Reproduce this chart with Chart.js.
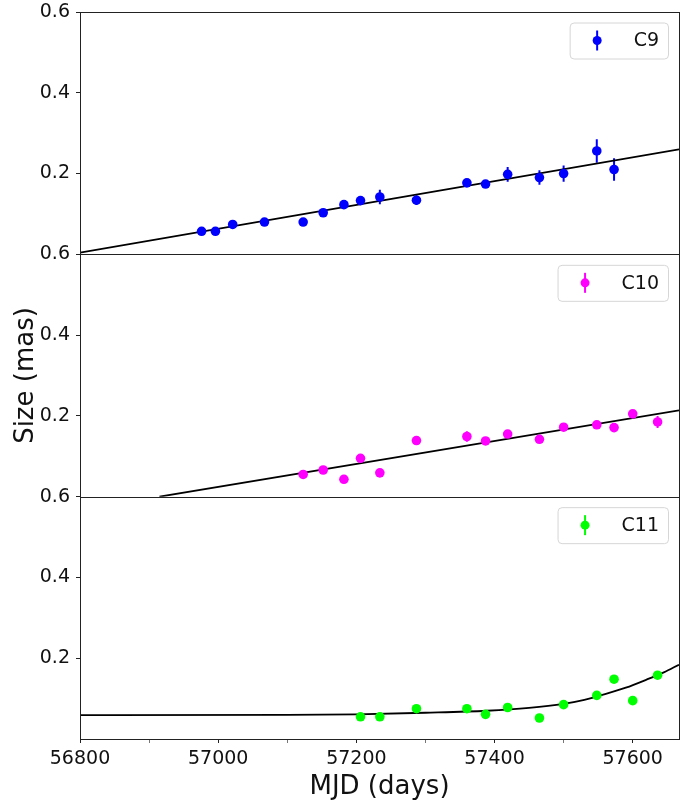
<!DOCTYPE html>
<html>
<head>
<meta charset="utf-8">
<script src="https://cdn.jsdelivr.net/npm/chart.js@4.4.1/dist/chart.umd.min.js"></script>
<style>
html,body{margin:0;padding:0;background:#fff;}
#wrap{width:692px;height:800px;position:relative;}
</style>
</head>
<body>
<div id="wrap"><canvas id="c" width="692" height="800"></canvas></div>
<script>
// ---- tick labels ----
const xTicks = [56800, 57000, 57200, 57400, 57600];
const xMinorTicks = [56900, 57100, 57300, 57500];
const yTicks = [0.2, 0.4, 0.6];

// ---- C9 ----
const c9Mjd  = [56976, 56996, 57021, 57067, 57123, 57152, 57182, 57206, 57234, 57287, 57360, 57387, 57419, 57465, 57500, 57548, 57573];
const c9Size = [0.057, 0.057, 0.074, 0.080, 0.080, 0.103, 0.123, 0.133, 0.142, 0.134, 0.177, 0.174, 0.198, 0.190, 0.200, 0.256, 0.210];
const c9Err  = [0.008, 0.008, 0.008, 0.008, 0.008, 0.008, 0.008, 0.010, 0.018, 0.012, 0.008, 0.008, 0.018, 0.018, 0.020, 0.029, 0.028];
const c9FitMjd  = [56800, 57667];
const c9FitSize = [0.004, 0.260];

// ---- C10 ----
const c10Mjd  = [57123, 57152, 57182, 57206, 57234, 57287, 57360, 57387, 57419, 57465, 57500, 57548, 57573, 57600, 57636];
const c10Size = [0.055, 0.066, 0.043, 0.095, 0.059, 0.139, 0.149, 0.138, 0.155, 0.142, 0.172, 0.178, 0.171, 0.205, 0.185];
const c10Err  = [0.006, 0.006, 0.006, 0.006, 0.006, 0.006, 0.013, 0.006, 0.008, 0.008, 0.006, 0.006, 0.008, 0.006, 0.015];
const c10FitMjd  = [56915, 57667];
const c10FitSize = [0.000, 0.2136];

// ---- C11 ----
const c11Mjd  = [57206, 57234, 57287, 57360, 57387, 57419, 57465, 57500, 57548, 57573, 57600, 57636];
const c11Size = [0.055, 0.055, 0.075, 0.075, 0.061, 0.078, 0.052, 0.085, 0.108, 0.148, 0.095, 0.158];
const c11Err  = [0.005, 0.005, 0.005, 0.005, 0.005, 0.005, 0.005, 0.005, 0.006, 0.008, 0.006, 0.008];
const c11FitMjd  = [56800, 57100, 57200, 57300, 57389, 57450, 57500, 57530, 57560, 57590, 57620, 57645, 57667];
const c11FitSize = [0.059, 0.0595, 0.061, 0.065, 0.070, 0.077, 0.087, 0.097, 0.111, 0.127, 0.147, 0.165, 0.184];

const FONT = '"DejaVu Sans", "Liberation Sans", sans-serif';
Chart.defaults.font.family = FONT;
Chart.defaults.color = '#111';

const pts = (xs, ys) => xs.map((x, i) => ({x: x, y: ys[i]}));

function pointSet(label, xs, ys, errs, color, axis) {
  return {
    type: 'scatter', label: label, data: pts(xs, ys), errors: errs, legendEntry: true,
    yAxisID: axis, backgroundColor: color, borderColor: color, borderWidth: 0,
    pointRadius: 4.8, pointHoverRadius: 4.8, order: 1
  };
}
function fitSet(xs, ys, axis) {
  return {
    type: 'line', label: 'fit', data: pts(xs, ys), yAxisID: axis,
    borderColor: '#000', borderWidth: 1.8, pointRadius: 0, fill: false,
    cubicInterpolationMode: 'monotone', order: 2
  };
}

function yAxis(weight, title) {
  return {
    type: 'linear', position: 'left', stack: 'panels', weight: weight,
    min: 0, max: 0.6,
    afterBuildTicks: (a) => { a.ticks = yTicks.map(v => ({value: v})); },
    afterFit: (a) => { a.width = 80; a.paddingTop = 0; a.paddingBottom = 0; },
    ticks: { font: {size: 19}, color: '#111', padding: 6, callback: (v) => Number(v).toFixed(1) },
    grid: { drawOnChartArea: false, drawTicks: true, tickLength: 4, tickColor: '#222', tickWidth: 1 },
    border: { display: true, color: '#222', width: 1 },
    title: title ? { display: true, text: title, font: {size: 26, lineHeight: 1.2}, color: '#111', padding: {top: 11, bottom: 0} } : {display: false}
  };
}

const errorBarPlugin = {
  id: 'errorBars',
  beforeDatasetsDraw(chart) {
    const ctx = chart.ctx;
    chart.data.datasets.forEach((ds, i) => {
      if (!ds.errors) return;
      const meta = chart.getDatasetMeta(i);
      const ys = chart.scales[ds.yAxisID];
      ctx.save();
      ctx.beginPath();
      ctx.rect(chart.chartArea.left, ys.top, chart.chartArea.right - chart.chartArea.left, ys.bottom - ys.top);
      ctx.clip();
      ctx.strokeStyle = ds.borderColor;
      ctx.lineWidth = 2;
      meta.data.forEach((el, j) => {
        const v = ds.data[j].y, e = ds.errors[j];
        ctx.beginPath();
        ctx.moveTo(el.x, ys.getPixelForValue(v + e));
        ctx.lineTo(el.x, ys.getPixelForValue(v - e));
        ctx.stroke();
      });
      ctx.restore();
    });
  }
};

const framePlugin = {
  id: 'frames',
  afterDatasetsDraw(chart) {
    const ctx = chart.ctx, ca = chart.chartArea;
    ctx.save();
    ctx.strokeStyle = '#222';
    ctx.lineWidth = 1;
    ['y9', 'y10', 'y11'].forEach(id => {
      const s = chart.scales[id];
      const t = Math.round(s.top), b = Math.round(s.bottom);
      const l = Math.round(ca.left), r = Math.round(ca.right);
      ctx.strokeRect(l + 0.5, t + 0.5, r - l, b - t);
    });
    ctx.restore();
  }
};

const legendPlugin = {
  id: 'panelLegends',
  afterDraw(chart) {
    const ctx = chart.ctx, ca = chart.chartArea;
    ctx.save();
    ctx.font = '19px ' + FONT;
    chart.data.datasets.forEach(ds => {
      if (!ds.legendEntry) return;
      const ys = chart.scales[ds.yAxisID];
      const tw = ctx.measureText(ds.label).width;
      const h = 36, w = 8 + 40 + 16 + tw + 9;
      const right = ca.right - 11, left = right - w, top = ys.top + 10.5;
      ctx.beginPath();
      ctx.roundRect(left + 0.5, top + 0.5, w, h, 4);
      ctx.fillStyle = 'rgba(255,255,255,0.85)';
      ctx.fill();
      ctx.strokeStyle = '#d6d6d6';
      ctx.lineWidth = 1;
      ctx.stroke();
      const hx = left + 27.5, hy = top + h / 2;
      ctx.strokeStyle = ds.backgroundColor;
      ctx.lineWidth = 2;
      ctx.beginPath();
      ctx.moveTo(hx, hy - 10);
      ctx.lineTo(hx, hy + 10);
      ctx.stroke();
      ctx.fillStyle = ds.backgroundColor;
      ctx.beginPath();
      ctx.arc(hx, hy, 4.5, 0, Math.PI * 2);
      ctx.fill();
      ctx.fillStyle = '#111';
      ctx.textAlign = 'left';
      ctx.textBaseline = 'middle';
      ctx.fillText(ds.label, left + 64, hy + 1);
    });
    ctx.restore();
  }
};

new Chart(document.getElementById('c'), {
  type: 'scatter',
  data: {
    datasets: [
      pointSet(`C9`, c9Mjd, c9Size, c9Err, '#0000ff', 'y9'),
      fitSet(c9FitMjd, c9FitSize, 'y9'),
      pointSet(`C10`, c10Mjd, c10Size, c10Err, '#ff00ff', 'y10'),
      fitSet(c10FitMjd, c10FitSize, 'y10'),
      pointSet(`C11`, c11Mjd, c11Size, c11Err, '#00ff00', 'y11'),
      fitSet(c11FitMjd, c11FitSize, 'y11')
    ]
  },
  options: {
    responsive: false,
    animation: false,
    devicePixelRatio: 1,
    layout: { padding: {top: 12, right: 13, left: 0, bottom: 0} },
    plugins: { legend: {display: false}, tooltip: {enabled: false} },
    scales: {
      x: {
        type: 'linear', position: 'bottom', min: 56800, max: 57667,
        afterBuildTicks: (a) => { a.ticks = xTicks.concat(xMinorTicks).sort((p, q) => p - q).map(v => ({value: v})); },
        afterFit: (a) => { a.height = 61; },
        ticks: {
          font: {size: 19}, color: '#111', padding: 5, maxRotation: 0, autoSkip: false,
          callback: (v) => xTicks.includes(v) ? String(v) : ''
        },
        grid: {
          drawOnChartArea: false, drawTicks: true, tickLength: 4,
          tickColor: (c) => (c.tick && xTicks.includes(c.tick.value)) ? '#222' : '#777',
          tickWidth: 1
        },
        border: { display: true, color: '#222', width: 1 },
        title: { display: true, text: 'MJD (days)', font: {size: 26, lineHeight: 1}, color: '#111', padding: {top: 0, bottom: 0} }
      },
      y9: yAxis(3, null),
      y10: yAxis(2, 'Size (mas)'),
      y11: yAxis(1, null)
    }
  },
  plugins: [errorBarPlugin, framePlugin, legendPlugin]
});
</script>
</body>
</html>
